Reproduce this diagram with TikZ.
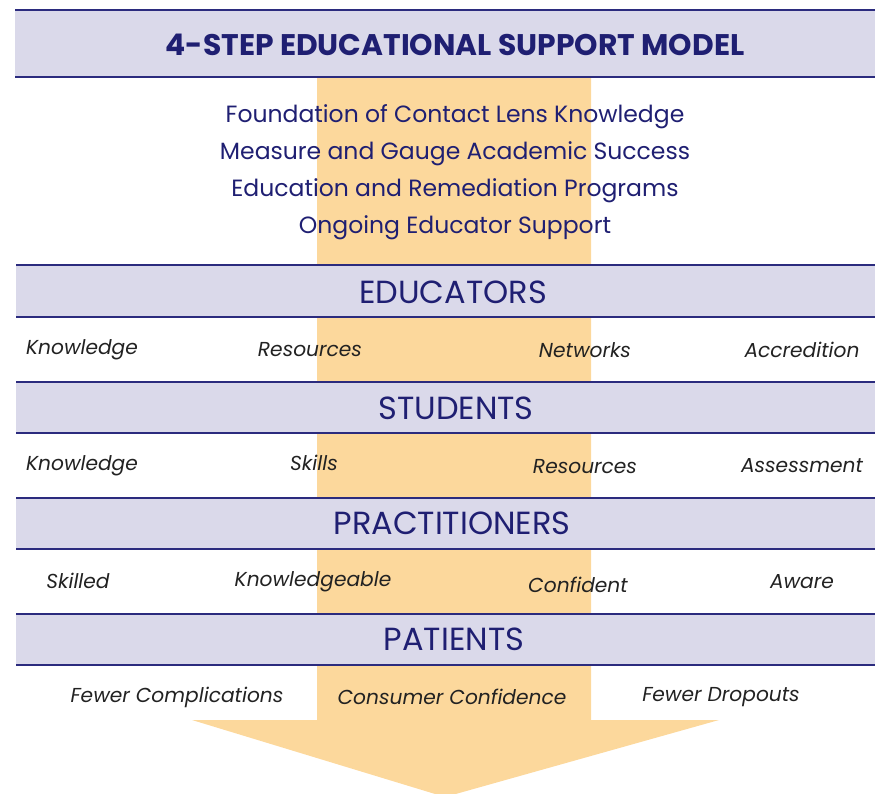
\documentclass[tikz,border=0pt]{standalone}
\usepackage{fontspec}
\setmainfont{Poppins}
\definecolor{bandc}{HTML}{DAD9EA}
\definecolor{linec}{HTML}{2B2B7E}
\definecolor{orangec}{HTML}{FCD89C}
\definecolor{navyc}{HTML}{1F1F72}
\definecolor{itemc}{HTML}{222222}
\begin{document}
\begin{tikzpicture}[x=1pt,y=-1pt,
  titletext/.style={font=\fontsize{29.8}{33}\selectfont\bfseries, text=navyc, inner sep=0pt},
  subtext/.style={font=\fontsize{23.5}{27}\selectfont, text=navyc, inner sep=0pt},
  bandtext/.style={font=\fontsize{32}{36}\selectfont, text=navyc, inner sep=0pt},
  itemtext/.style={font=\fontsize{20.2}{24}\selectfont\itshape, text=itemc, inner sep=0pt},
  bandline/.style={draw=linec, line width=1.3pt}]
\useasboundingbox (0,0) rectangle (875,793);
% orange strip with arrow head
\fill[orangec] (317,78) -- (591,78) -- (591,720) -- (719,720) -- (445,797) -- (192,720) -- (317,720) -- cycle;
% title band
\fill[bandc] (15,10) rectangle (875,77);
\draw[bandline] (15,10) -- (875,10);
\draw[bandline] (15,77) -- (875,77);
% category bands
\foreach \a/\b in {265/317, 382/433, 498/549, 614/665} {
  \fill[bandc] (16,\a) rectangle (875,\b);
  \draw[bandline] (16,\a) -- (875,\a);
  \draw[bandline] (16,\b) -- (875,\b);
}
% title
\node[titletext] (title) at (455,45) {4-STEP EDUCATIONAL SUPPORT MODEL};
% steps
\node[subtext] (s1) at (455,117) {Foundation of Contact Lens Knowledge};
\node[subtext] (s2) at (455,154) {Measure and Gauge Academic Success};
\node[subtext] (s3) at (455,191) {Education and Remediation Programs};
\node[subtext] (s4) at (455,228) {Ongoing Educator Support};
% band labels
\node[bandtext] (edu) at (453,292) {EDUCATORS};
\node[bandtext] (stu) at (456,408) {STUDENTS};
\node[bandtext] (pra) at (452,523) {PRACTITIONERS};
\node[bandtext] (pat) at (454,639) {PATIENTS};
% educators items
\node[itemtext] (e1) at (82,350) {Knowledge};
\node[itemtext] (e2) at (310,350) {Resources};
\node[itemtext] (e3) at (585,350) {Networks};
\node[itemtext] (e4) at (802,350) {Accredition};
% students items
\node[itemtext] (t1) at (82,466) {Knowledge};
\node[itemtext] (t2) at (314,463) {Skills};
\node[itemtext] (t3) at (585,467) {Resources};
\node[itemtext] (t4) at (802,466) {Assessment};
% practitioners items
\node[itemtext] (p1) at (78,581) {Skilled};
\node[itemtext] (p2) at (313,582) {Knowledgeable};
\node[itemtext] (p3) at (578,585) {Confident};
\node[itemtext] (p4) at (802,582) {Aware};
% patients items
\node[itemtext] (q1) at (177,697) {Fewer Complications};
\node[itemtext] (q2) at (452,697) {Consumer Confidence};
\node[itemtext] (q3) at (721,697) {Fewer Dropouts};
\end{tikzpicture}
\end{document}
